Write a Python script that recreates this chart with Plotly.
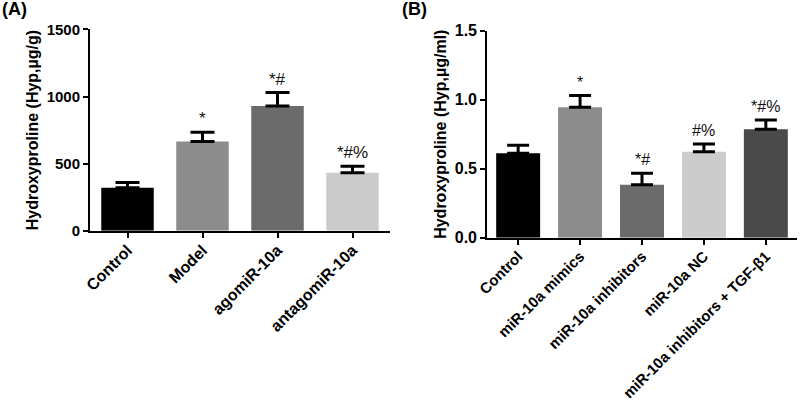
import plotly.graph_objects as go

# Panel A data
cats_a = ["Control", "Model", "agomiR-10a", "antagomiR-10a"]
vals_a = [320, 664, 930, 432]
errs_a = [40, 70, 100, 48]
sig_a = ["", "*", "*#", "*#%"]
colors_a = ["#000000", "#8c8c8c", "#6b6b6b", "#cccccc"]

# Panel B data
cats_b = ["Control", "miR-10a mimics", "miR-10a inhibitors", "miR-10a NC",
          "miR-10a inhibitors + TGF-β1"]
vals_b = [0.612, 0.945, 0.384, 0.623, 0.786]
errs_b = [0.058, 0.085, 0.083, 0.056, 0.067]
sig_b = ["", "*", "*#", "#%", "*#%"]
colors_b = ["#000000", "#8c8c8c", "#6b6b6b", "#cccccc", "#4a4a4a"]

FONT = "Liberation Sans, Arial, sans-serif"

fig = go.Figure()
fig.add_trace(go.Bar(
    x=cats_a, y=vals_a, marker=dict(color=colors_a, line=dict(width=0)),
    width=0.7,
    error_y=dict(type="data", symmetric=False, array=errs_a,
                 arrayminus=[0] * len(errs_a), color="black",
                 thickness=3, width=12),
    xaxis="x", yaxis="y", showlegend=False))
fig.add_trace(go.Bar(
    x=cats_b, y=vals_b, marker=dict(color=colors_b, line=dict(width=0)),
    width=0.71,
    error_y=dict(type="data", symmetric=False, array=errs_b,
                 arrayminus=[0] * len(errs_b), color="black",
                 thickness=3, width=11),
    xaxis="x2", yaxis="y2", showlegend=False))

def ax(tick_size, standoff=0):
    return dict(showline=True, linecolor="black", linewidth=2,
                ticks="outside", ticklen=5, tickwidth=2, tickcolor="black",
                showgrid=False, zeroline=False, automargin=False,
                ticklabelstandoff=standoff,
                tickfont=dict(family=FONT, size=tick_size, color="black", weight="bold"))

title_font = dict(family=FONT, size=16, color="black", weight="bold")

fig.update_layout(
    width=800, height=404,
    margin=dict(l=0, r=0, t=0, b=0),
    plot_bgcolor="white", paper_bgcolor="white",
    xaxis=dict(domain=[0.1125, 0.4875], anchor="y", range=[-0.5, 3.5],
               tickangle=-45, **ax(16, -3)),
    yaxis=dict(domain=[0.429, 0.927], anchor="x", range=[0, 1500], dtick=500,
               title=dict(text="Hydroxyproline (Hyp,µg/g)", font=title_font,
                          standoff=4),
               **ax(15)),
    xaxis2=dict(domain=[0.609, 0.996], anchor="y2", range=[-0.5, 4.5],
                tickangle=-45, **ax(15, -3)),
    yaxis2=dict(domain=[0.4116, 0.924], anchor="x2", range=[0, 1.5], dtick=0.5,
                tickformat=".1f",
                title=dict(text="Hydroxyproline (Hyp,µg/ml)", font=title_font,
                           standoff=4),
                **ax(16)),
)

for c, v, e, s in zip(cats_a, vals_a, errs_a, sig_a):
    if s:
        fig.add_annotation(x=c, y=v + e, xref="x", yref="y", text=s,
                           showarrow=False, yanchor="bottom", yshift=2,
                           font=dict(family=FONT, size=17, color="#111111"))
for c, v, e, s in zip(cats_b, vals_b, errs_b, sig_b):
    if s:
        fig.add_annotation(x=c, y=v + e, xref="x2", yref="y2", text=s,
                           showarrow=False, yanchor="bottom", yshift=3,
                           font=dict(family=FONT, size=16, color="#111111"))

fig.add_annotation(x=0, y=1, xref="paper", yref="paper", text="<b>(A)</b>",
                   showarrow=False, xanchor="left", yanchor="top", yshift=3,
                   font=dict(family=FONT, size=18, color="black"))
fig.add_annotation(x=0.5, y=1, xref="paper", yref="paper", text="<b>(B)</b>",
                   showarrow=False, xanchor="left", yanchor="top", yshift=3,
                   font=dict(family=FONT, size=18, color="black"))

fig.write_html("out.html", config={"displayModeBar": False},
               post_script="document.body.style.margin='0';document.body.style.overflow='hidden';")
